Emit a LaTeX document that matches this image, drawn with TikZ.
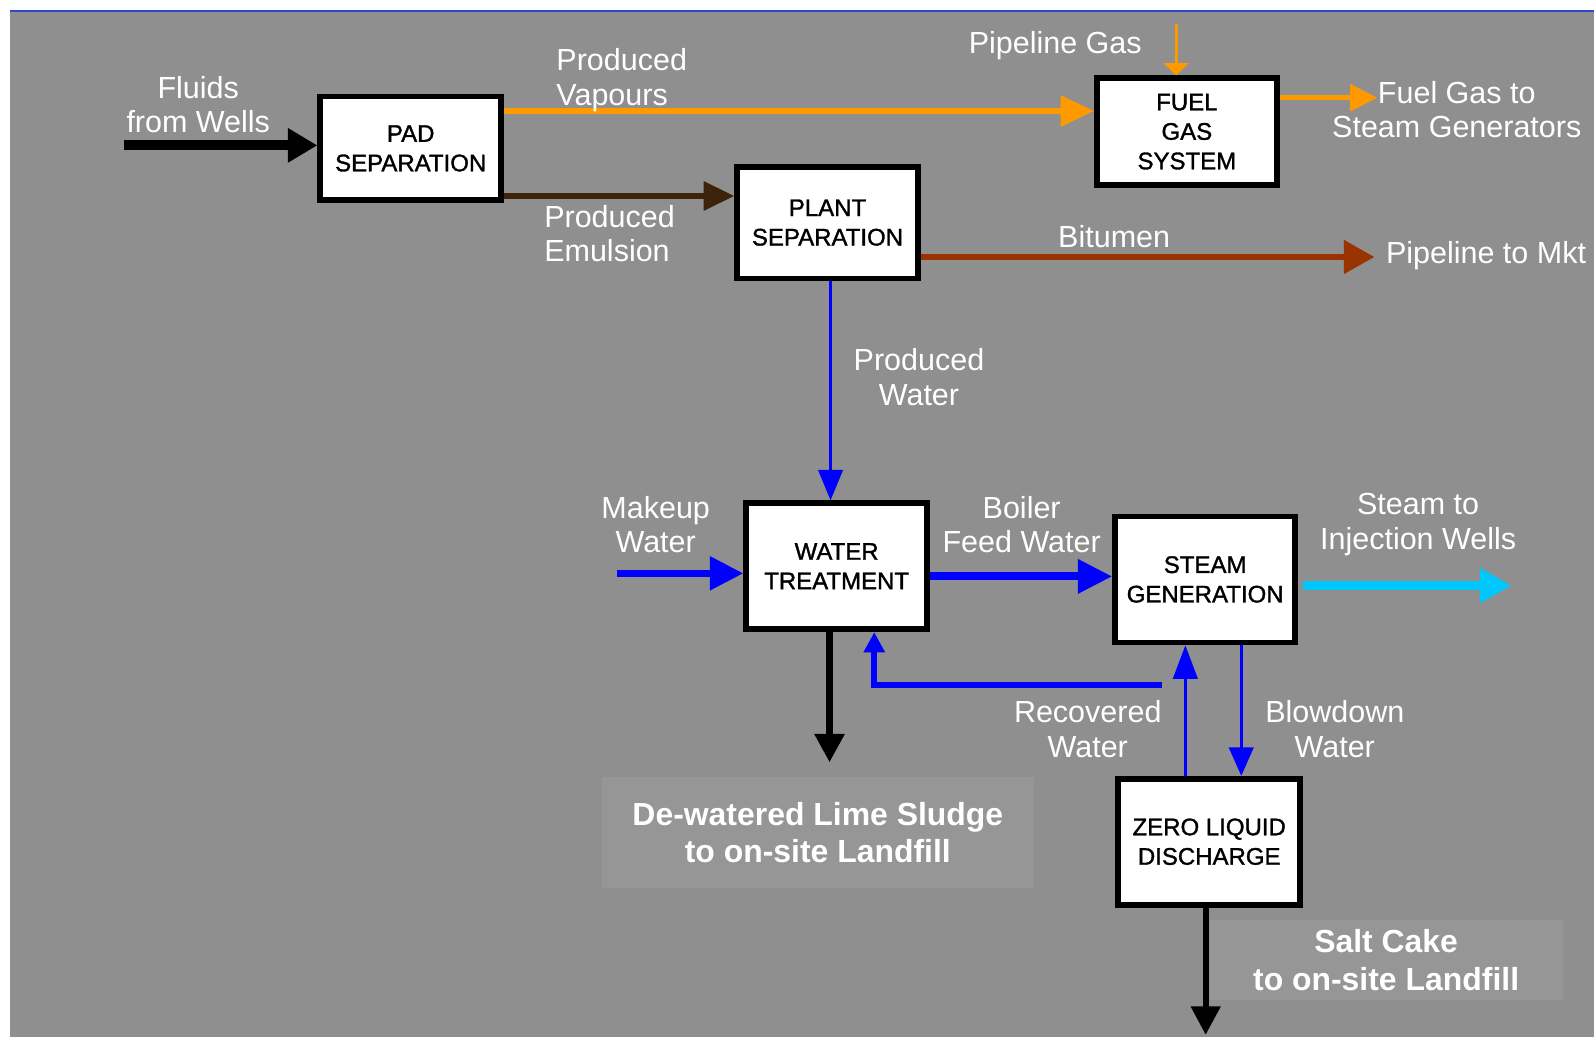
\documentclass[tikz,border=0pt]{standalone}
\usepackage{fontspec}
\setmainfont{Liberation Sans}
\newfontfamily\unitfont[FakeBold=1.3]{Liberation Sans}
\usetikzlibrary{arrows.meta,calc}
\definecolor{bg}{RGB}{143,143,143}
\definecolor{lbox}{RGB}{150,150,150}
\definecolor{topblue}{RGB}{50,70,200}
\definecolor{vapc}{RGB}{255,153,0}
\definecolor{emulc}{RGB}{60,35,10}
\definecolor{bituc}{RGB}{153,51,0}
\definecolor{wblue}{RGB}{0,0,255}
\definecolor{steamc}{RGB}{0,200,255}
\begin{document}
\begin{tikzpicture}[x=0.5pt,y=-0.5pt,
  unitbox/.style={draw=black, line width=2.8pt, fill=white, inner sep=0pt, align=center,
    font=\unitfont\fontsize{11.8}{14.5}\selectfont},
  lbl/.style={text=white, align=center, inner sep=0pt, font=\fontsize{15}{17}\selectfont},
  fillbl/.style={text=white, align=center, inner sep=0pt, fill=lbox,
    font=\fontsize{15.7}{18.5}\selectfont\bfseries},
  flow/.style={line join=miter}
]
\useasboundingbox (0,0) rectangle (1568,1020);
\fill[white] (0,0) rectangle (1568,1020);
\fill[bg] (10,12) rectangle (1568,1020);
\draw[topblue, line width=1.3pt] (10,11) -- (1568,11);

% units
\node[unitbox, minimum width=89pt, minimum height=51pt] (pad) at (404,146) {PAD\\SEPARATION};
\node[unitbox, minimum width=89pt, minimum height=55pt] (plant) at (814,219) {PLANT\\SEPARATION};
\node[unitbox, minimum width=88.5pt, minimum height=52.5pt] (fuel) at (1167.5,129.5) {FUEL\\GAS\\SYSTEM};
\node[unitbox, minimum width=89pt, minimum height=62pt] (wt) at (823,557) {WATER\\TREATMENT};
\node[unitbox, minimum width=88.5pt, minimum height=62pt] (sg) at (1185.5,570) {STEAM\\GENERATION};
\node[unitbox, minimum width=89.5pt, minimum height=62pt] (zld) at (1189.5,828) {ZERO LIQUID\\DISCHARGE};

% free ends
\coordinate (fw) at (122,143);
\coordinate (pg) at (1157,24);
\coordinate (fgend) at (1355,99);
\coordinate (bitend) at (1352,250);
\coordinate (mw) at (607,564);
\coordinate (stend) at (1487,576);
\coordinate (sludgeend) at (816,750);
\coordinate (rw) at (1143,674);
\coordinate (scend) at (1186,1018);

% start points on the units
\coordinate (v1) at ($(pad.north east)+(0,17)$);
\coordinate (fo) at ($(fuel.north east)+(0,22)$);
\coordinate (e1) at ($(pad.south east)+(0,-7)$);
\coordinate (b1) at ($(plant.south east)+(0,-24)$);
\coordinate (pw) at ($(plant.south)+(3,0)$);
\coordinate (bfw) at ($(wt.east)+(0,10)$);
\coordinate (st) at ($(sg.east)+(5,6)$);
\coordinate (wtb) at ($(wt.south)+(-7,0)$);
\coordinate (rstub) at ($(wt.south)+(37,0)$);
\coordinate (rz) at ($(zld.north)+(-23.5,0)$);
\coordinate (bd) at ($(sg.south)+(35.5,0)$);
\coordinate (zb) at ($(zld.south)+(-3.5,0)$);

% connectors
\draw[black, line width=5pt, -{Triangle[length=14.5pt,width=16pt]}] (fw) -- (fw -| pad.west);
\draw[vapc, line width=2.5pt, -{Triangle[length=16.5pt,width=15pt]}] (v1) -- (v1 -| fuel.west);
\draw[vapc, line width=1.5pt, -{Triangle[length=6pt,width=12pt]}] (pg) -- (pg |- fuel.north);
\draw[vapc, line width=2.5pt, -{Triangle[length=13.5pt,width=13pt]}] (fo) -- (fo -| fgend);
\draw[emulc, line width=2.5pt, -{Triangle[length=15pt,width=14pt]}] (e1) -- (e1 -| plant.west);
\draw[bituc, line width=3pt, -{Triangle[length=15pt,width=16pt]}] (b1) -- (b1 -| bitend);
\draw[wblue, line width=1.5pt, -{Triangle[length=15pt,width=12pt]}] (pw) -- (pw |- wt.north);
\draw[wblue, line width=3.5pt, -{Triangle[length=16.5pt,width=16pt]}] (mw) -- (mw -| wt.west);
\draw[wblue, line width=4pt, -{Triangle[length=17pt,width=16pt]}] (bfw) -- (bfw -| sg.west);
\draw[steamc, line width=4pt, -{Triangle[length=15.5pt,width=16pt]}] (st) -- (st -| stend);
\draw[black, line width=3.5pt, -{Triangle[length=14pt,width=14pt]}] (wtb) -- (wtb |- sludgeend);
\draw[wblue, line width=1.5pt, -{Triangle[length=16.5pt,width=12pt]}] (rz) -- (rz |- sg.south);
\draw[wblue, line width=3pt, flow, -{Triangle[length=10pt,width=10pt]}] (rw) -- (rw -| rstub) -- (rstub);
\draw[wblue, line width=1.5pt, -{Triangle[length=14pt,width=12pt]}] (bd) -- (bd |- zld.north);
\draw[black, line width=3pt, -{Triangle[length=14pt,width=14pt]}] (zb) -- (zb |- scend);

% labels
\node[lbl] (lfluids) at (195,103) {Fluids\\from Wells};
\node[lbl, align=left, anchor=west] (lvap) at (547,79) {Produced\\Vapours};
\node[lbl, align=left, anchor=west] (lemul) at (535,230) {Produced\\Emulsion};
\node[lbl] (lpg) at (1038,45) {Pipeline Gas};
\node[lbl] (lfg) at (1433,108) {Fuel Gas to\\Steam Generators};
\node[lbl] (lbit) at (1096,233) {Bitumen};
\node[lbl, anchor=west] (lmkt) at (1363,251) {Pipeline to Mkt};
\node[lbl] (lpw) at (904,371) {Produced\\Water};
\node[lbl] (lmw) at (645,516) {Makeup\\Water};
\node[lbl] (lbfw) at (1005,516) {Boiler\\Feed Water};
\node[lbl] (lst) at (1395,516) {Steam to\\Injection Wells};
\node[lbl] (lrw) at (1070,717) {Recovered\\Water};
\node[lbl] (lbd) at (1313,717) {Blowdown\\Water};

\node[fillbl, minimum width=212.5pt, minimum height=55pt] (sludge) at (804.5,819)
  {De-watered Lime Sludge\\to on-site Landfill};
\node[fillbl, minimum width=173.5pt, minimum height=39.5pt] (salt) at (1363.5,944.5)
  {Salt Cake\\to on-site Landfill};
\end{tikzpicture}
\end{document}
